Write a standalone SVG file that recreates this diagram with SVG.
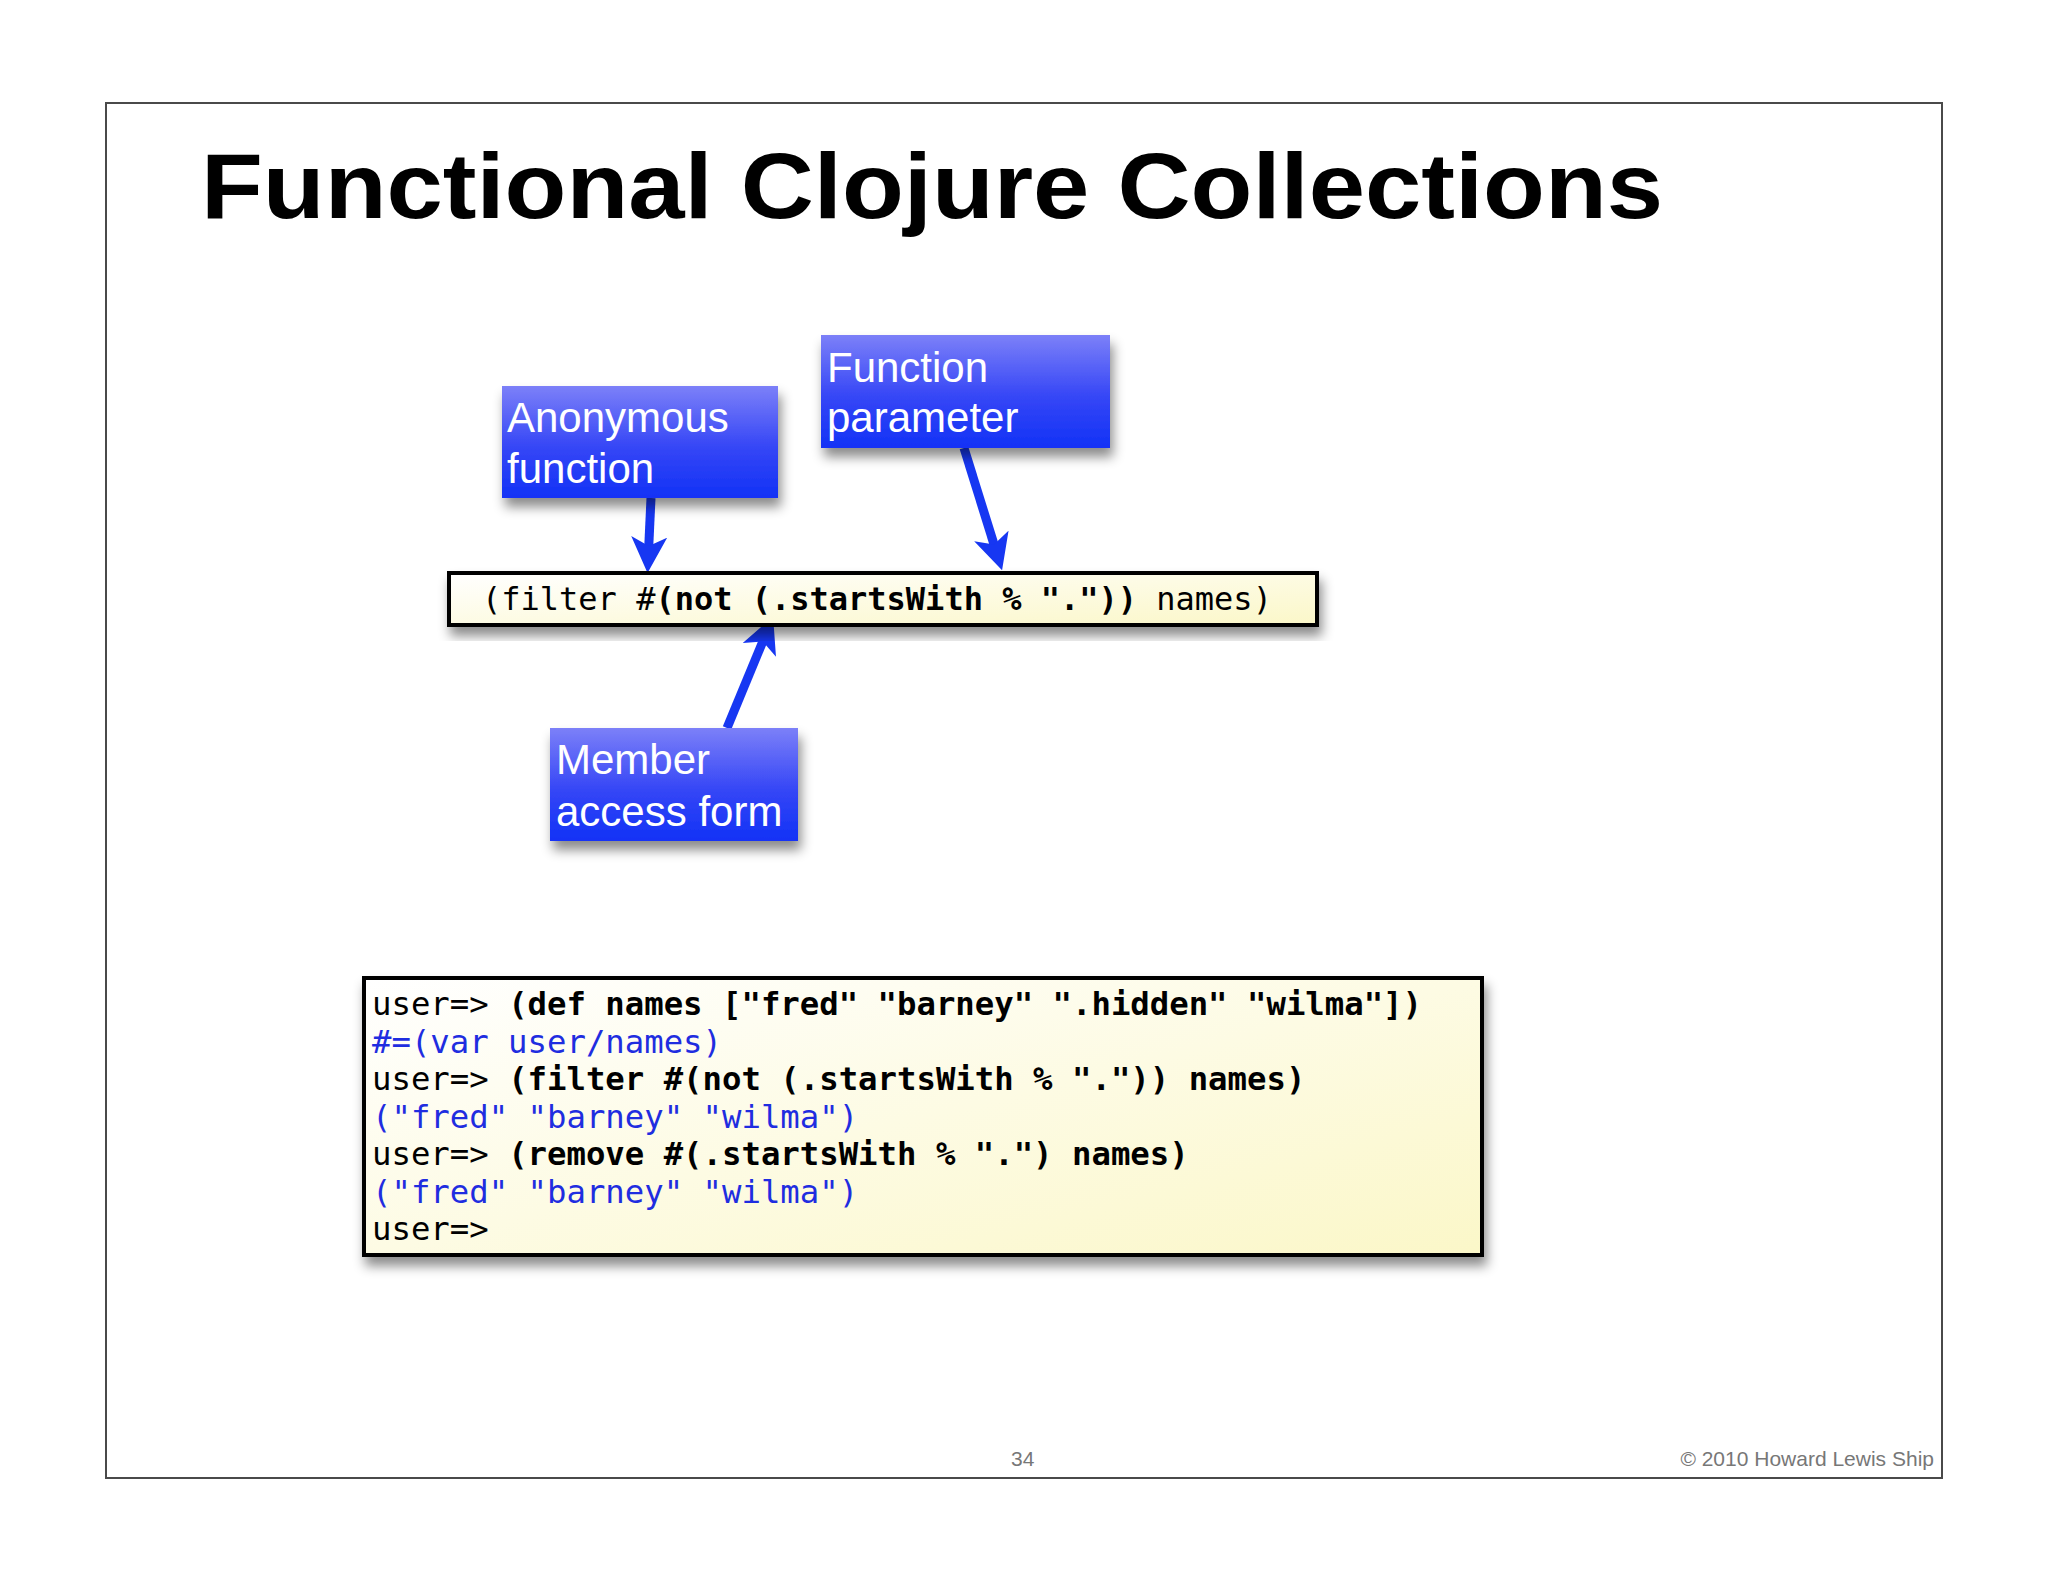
<svg xmlns="http://www.w3.org/2000/svg" width="2048" height="1582" viewBox="0 0 2048 1582">
<style>
.title{font-family:"Liberation Sans",Arial,sans-serif;font-weight:bold;font-size:92px;fill:#000}
.lbl{font-family:"Liberation Sans",Arial,sans-serif;font-size:42px;fill:#fff}
.code{font-family:"DejaVu Sans Mono","Liberation Mono",monospace;font-size:32px;fill:#000}
.repl{font-size:32.3px}
.b{font-weight:bold}
.out{fill:#1f2de0}
.foot{font-family:"Liberation Sans",Arial,sans-serif;font-size:21px;fill:#777}
.bluebox{fill:url(#blueGrad);filter:url(#shadow)}
.codebox{stroke:#000;stroke-width:4;filter:url(#shadow)}
.conn{stroke:#1737f2;stroke-width:9;fill:none;marker-end:url(#head)}
</style>
<defs>
<linearGradient id="blueGrad" x1="0" y1="0" x2="0" y2="1">
<stop offset="0" stop-color="#7c80f8"/>
<stop offset="0.55" stop-color="#3546f6"/>
<stop offset="1" stop-color="#1232f6"/>
</linearGradient>
<linearGradient id="creamGrad" x1="0" y1="0" x2="1" y2="1">
<stop offset="0" stop-color="#ffffff"/>
<stop offset="1" stop-color="#fbf7c8"/>
</linearGradient>
<filter id="shadow" x="-10%" y="-20%" width="125%" height="150%">
<feDropShadow dx="3" dy="9" stdDeviation="6" flood-color="#000" flood-opacity="0.45"/>
</filter>
<marker id="head" viewBox="0 0 10 10" markerUnits="userSpaceOnUse" markerWidth="36" markerHeight="36" refX="6" refY="5" orient="auto">
<path d="M0,0 L10,5 L0,10 L2.5,5 z" fill="#1737f2"/>
</marker>
</defs>
<rect x="0" y="0" width="2048" height="1582" fill="#fff"/>
<rect x="106" y="103" width="1836" height="1375" fill="#fff" stroke="#4a4a4a" stroke-width="2"/>
<text class="title" x="201" y="218" textLength="1462" lengthAdjust="spacingAndGlyphs">Functional Clojure Collections</text>

<g id="connectors">
<line class="conn" x1="651" y1="498" x2="648.2" y2="558.5"/>
<line class="conn" x1="964" y1="448" x2="997.8" y2="556.6"/>
<line class="conn" x1="727" y1="728" x2="767.6" y2="629.9"/>
</g>

<g id="filter-expr">
<rect class="codebox" x="449" y="573" width="868" height="52" fill="url(#creamGrad)"/>
<text class="code" x="482" y="610" xml:space="preserve">(filter #<tspan class="b">(not (.startsWith % "."))</tspan> names)</text>
</g>

<g id="anonymous-function">
<rect class="bluebox" x="502" y="386" width="276" height="112"/>
<text class="lbl" x="507" y="432">Anonymous</text>
<text class="lbl" x="507" y="483">function</text>
</g>

<g id="function-parameter">
<rect class="bluebox" x="821" y="335" width="289" height="113"/>
<text class="lbl" x="827" y="382">Function</text>
<text class="lbl" x="827" y="432">parameter</text>
</g>

<g id="member-access-form">
<rect class="bluebox" x="550" y="728" width="248" height="113"/>
<text class="lbl" x="556" y="774">Member</text>
<text class="lbl" x="556" y="826">access form</text>
</g>

<g id="repl">
<rect class="codebox" x="364" y="978" width="1118" height="277" fill="url(#creamGrad)"/>
<text class="code repl" x="372" y="1015" xml:space="preserve">user=&gt; <tspan class="b">(def names ["fred" "barney" ".hidden" "wilma"])</tspan></text>
<text class="code repl out" x="372" y="1052.5">#=(var user/names)</text>
<text class="code repl" x="372" y="1090" xml:space="preserve">user=&gt; <tspan class="b">(filter #(not (.startsWith % ".")) names)</tspan></text>
<text class="code repl out" x="372" y="1127.5" xml:space="preserve">("fred" "barney" "wilma")</text>
<text class="code repl" x="372" y="1165" xml:space="preserve">user=&gt; <tspan class="b">(remove #(.startsWith % ".") names)</tspan></text>
<text class="code repl out" x="372" y="1202.5" xml:space="preserve">("fred" "barney" "wilma")</text>
<text class="code repl" x="372" y="1240">user=&gt;</text>
</g>

<text class="foot" x="1011" y="1466">34</text>
<text class="foot" x="1934" y="1466" text-anchor="end">© 2010 Howard Lewis Ship</text>
</svg>
